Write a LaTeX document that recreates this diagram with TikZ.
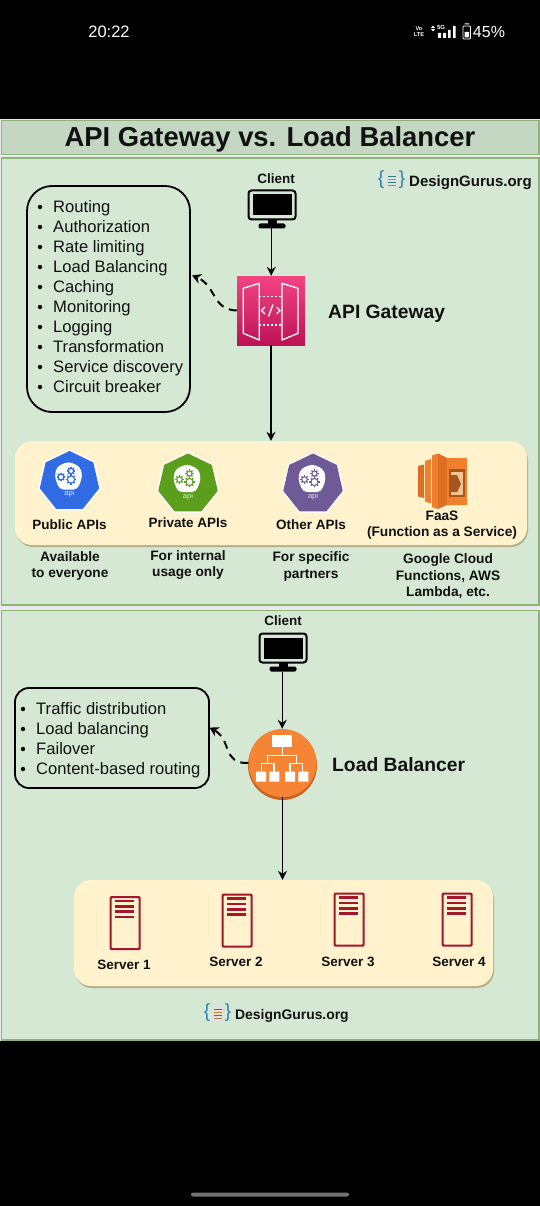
\documentclass[tikz,border=0pt]{standalone}
\usepackage{fontspec}
\setmainfont{Liberation Sans}
\usetikzlibrary{arrows.meta,calc}
\definecolor{panelg}{HTML}{D5E8D4}
\definecolor{titleg}{HTML}{C3D7C2}
\definecolor{edgeg}{HTML}{8DB37A}
\definecolor{cream}{HTML}{FFF2CC}
\definecolor{creamsh}{HTML}{B5B08A}
\definecolor{wine}{HTML}{A3162E}
\definecolor{inkk}{HTML}{111111}
\definecolor{pinktop}{HTML}{F34482}
\definecolor{pinkbot}{HTML}{BC1356}
\definecolor{lborange}{HTML}{F58534}
\definecolor{lbdark}{HTML}{C7651F}
\definecolor{kblue}{HTML}{326CE5}
\definecolor{kgreen}{HTML}{5A9E1B}
\definecolor{kpurple}{HTML}{6D5A96}
\definecolor{lamA}{HTML}{F07F2E}
\definecolor{lamB}{HTML}{DE6E24}
\definecolor{lamC}{HTML}{A3561F}
\definecolor{lamD}{HTML}{F7C48F}
\definecolor{logob}{HTML}{2F7FB5}
\tikzset{
 x=1pt,y=-1pt,
 panel/.style={draw=edgeg,line width=1.5pt,fill=panelg},
 cream box/.style={draw=none,fill=cream,rounded corners=17pt,inner sep=0pt},
 list box/.style={draw=black,line width=1.8pt,inner sep=0pt},
 lab/.style={font=\fontsize{13.5}{13.5}\selectfont\bfseries,text=inkk,inner sep=0pt,align=center},
 small lab/.style={font=\fontsize{13.7}{16.5}\selectfont\bfseries,text=inkk,inner sep=0pt,align=center},
 big lab/.style={font=\fontsize{19.3}{19.3}\selectfont\bfseries,text=inkk,inner sep=0pt,anchor=west},
 item/.style={font=\fontsize{16.6}{16.6}\selectfont,text=inkk,inner sep=0pt,anchor=west,text height=12pt,text depth=3.5pt},
 bullet/.style={circle,fill=inkk,inner sep=0pt,minimum size=4.5pt},
 flow/.style={-{Stealth[length=9pt,width=9pt]},line width=1.1pt,draw=black},
 side flow/.style={-{Stealth[length=9pt,width=10pt]},line width=2pt,draw=black,dash pattern=on 8pt off 6pt},
}
\newcommand{\monitorat}[3]{% name, x, y(top-left)
 \draw[black,line width=2pt,rounded corners=3pt] (#2,#3) rectangle ++(47,29);
 \fill[black] ({#2+4},{#3+4}) rectangle ++(39,21);
 \fill[black] ({#2+19},{#3+29}) rectangle ++(9,5);
 \fill[black,rounded corners=2pt] ({#2+10},{#3+33}) rectangle ++(27,5);
 \coordinate (#1) at ({#2+22.7},{#3+38});
}
\newcommand{\gearat}[4]{% x,y,r,colour
 \draw[#4,line width=1.1pt] (#1,#2) circle (#3);
 \foreach \a in {0,45,...,315}{\draw[#4,line width=1.3pt] ({#1+#3*cos(\a)},{#2+#3*sin(\a)}) -- ({#1+(#3+1.6)*cos(\a)},{#2+(#3+1.6)*sin(\a)});}
}
\newcommand{\kube}[4]{% name,x,y,colour
 \fill[white] ({#2},{#3-32})
  \foreach \k in {1,...,6}{ -- ({#2+32*sin(\k*360/7)},{#3-32*cos(\k*360/7)})} -- cycle;
 \fill[#4] ({#2},{#3-30.5})
  \foreach \k in {1,...,6}{ -- ({#2+30.5*sin(\k*360/7)},{#3-30.5*cos(\k*360/7)})} -- cycle;
 \fill[white,rounded corners=4pt] ({#2-1},{#3-20})
  -- ({#2+10.5},{#3-15}) -- ({#2+13},{#3-5}) -- ({#2+8},{#3+8}) -- ({#2-10},{#3+8}) -- ({#2-15},{#3-5}) -- ({#2-12.5},{#3-15}) -- cycle;
 \gearat{#2-8.5}{#3-4.5}{2.8}{#4}
 \gearat{#2+1.5}{#3-10.5}{2.6}{#4}
 \gearat{#2+1.5}{#3-2}{3.6}{#4}
 \node[inner sep=0pt,text=white!80!#4,font=\fontsize{7.5}{7.5}\selectfont] (#1) at (#2,{#3+12.5}) {api};
}
\newcommand{\serverat}[3]{% name,x,y
 \node[draw=wine,line width=2.2pt,rounded corners=1pt,minimum width=29pt,minimum height=52pt,inner sep=0pt,anchor=north west] (#1) at (#2,#3) {};
 \foreach \d in {5,10.3,15.6,20.9}{\fill[wine] ({#2+5.5},{#3+\d-1.3}) rectangle ++(19,2.7);}
}
\newcommand{\logoat}[5]{% name,x,y,text x,size
 \node[inner sep=0pt,text=logob,font=\fontsize{19}{19}\selectfont] at ({#2},{#3-1}) {\{};
 \node[inner sep=0pt,text=logob,font=\fontsize{19}{19}\selectfont] at ({#2+21},{#3-1}) {\}};
 \fill[black!12] ({#2+5},{#3-8}) rectangle ++(11,15);
 \foreach \d/\c in {-5/teal,-2/orange,1/teal,4/brown}{\draw[\c!70!gray,line width=.9pt] ({#2+6.5},{#3+\d}) -- ++(8,0);}
 \node[inner sep=0pt,anchor=west,text=inkk,font=\fontsize{#5}{#5}\selectfont\bfseries] (#1) at (#4,{#3+1.5}) {DesignGurus.org};
}
\begin{document}
\begin{tikzpicture}
\useasboundingbox (0,0) rectangle (540,1206);
\fill[black] (0,0) rectangle (540,1206);
% status bar
\node[text=white,inner sep=0pt,font=\fontsize{16.5}{16.5}\selectfont] (clock) at (109,32) {20:22};
\node[text=white,inner sep=0pt,font=\fontsize{16}{16}\selectfont] (batt) at (489,32) {45\%};
\node[text=white,inner sep=0pt,align=center,font=\fontsize{5.6}{6}\selectfont\bfseries] (volte) at (419,32) {Vo\\LTE};
\node[text=white,inner sep=0pt,font=\fontsize{6}{6}\selectfont\bfseries] (fiveg) at (441,27.5) {5G};
\fill[white] (431,28) -- (433,25.6) -- (435,28) (431,29) -- (433,31.4)--(435,29);
\fill[white] (438,33) rectangle ++(3,5) (443,33) rectangle ++(3,5) (448,30) rectangle ++(2.5,8) (453,26) rectangle ++(2.5,12);
\draw[white,line width=.8pt,rounded corners=1pt] (463,26) rectangle (470.5,39);
\fill[white] (464.5,32) rectangle (469,37.5) (464.5,23.5) rectangle (469,24.5);
\fill[black!55,rounded corners=2pt] (191,1192.5) rectangle (349,1196.5);
% panels
\fill[white!92!black] (0,119) rectangle (540,1041);
\draw[panel,fill=titleg] (1.5,120.5) rectangle (539,154.5);
\draw[panel] (1.5,158) rectangle (539,605);
\draw[panel] (1.5,610.5) rectangle (539,1040);
\node[inner sep=0pt,text=inkk,font=\fontsize{27.4}{27.4}\selectfont\bfseries] (title) at (270,139) {API Gateway vs. Load Balancer};
% logos
\logoat{logoa}{381}{181}{409}{15}
\logoat{logoc}{207}{1014}{235}{13.9}
% ---------- gateway part
\node[lab] (clienta) at (276,179) {Client};
\monitorat{mona}{248.5}{190.5}
\node[inner sep=0pt,minimum width=68pt,minimum height=69pt,top color=pinktop,bottom color=pinkbot,draw=none] (gw) at (271,310.5) {};
\draw[white,line width=1.3pt,line join=round] (243.3,288.3) -- (259.3,283.3) -- (259.3,340) -- (243.3,333.3) -- cycle;
\draw[white,line width=1.3pt,line join=round] (282,283.3) -- (298,288.3) -- (298,333.3) -- (282,340) -- cycle;
\draw[white,line width=1.3pt,dash pattern=on 2pt off 2pt] (259.3,296.7) -- (282,296.7) (259.3,325) -- (282,325);
\draw[white,line width=1.3pt] (265,307) -- (261.5,310.5) -- (265,314) (276.5,307) -- (280,310.5) -- (276.5,314) (273,304.5) -- (268.5,316.5);
\node[big lab] (gwlab) at (328,313.5) {API Gateway};
\node[list box,rounded corners=25pt,minimum width=163pt,minimum height=226pt] (lista) at (108.5,299) {};
\foreach \t [count=\i from 0] in {Routing,Authorization,Rate limiting,Load Balancing,Caching,Monitoring,Logging,Transformation,Service discovery,Circuit breaker}{
 \node[bullet] (ba\i) at (40,{207+20*\i}) {};
 \node[item] (ia\i) at (53,{208+20*\i}) {\t};
}
\coordinate (dasha) at (192,275.5);
\fill[creamsh] (16,443.5) [rounded corners=17pt] rectangle (528,547);
\node[cream box,minimum width=512pt,minimum height=104pt] (apis) at (271,493) {};
\draw[flow] (mona) -- (mona |- gw.north);
\draw[flow] (gw.south) -- (apis.north);
\draw[side flow] (gw.west) .. controls (212,310) and (216,285) .. (dasha);
\kube{kpub}{69.5}{481.5}{kblue}
\kube{kpri}{188}{484}{kgreen}
\kube{koth}{313}{484}{kpurple}
% lambda
\fill[lamB] (418,466) -- (424,464.5) -- (424,498) -- (418,496.5) -- cycle;
\fill[lamA] (425,461) -- (431,459) -- (431,503.5) -- (425,501.5) -- cycle;
\fill[lamA] (432,455.5) -- (438,453.5) -- (438,509) -- (432,507) -- cycle;
\fill[lamB] (438,453.5) -- (447,458) -- (467,458) -- (467,505) -- (447,505) -- (438,509) -- cycle;
\fill[lamA] (447,458) -- (467,458) -- (467,505) -- (447,505) -- cycle;
\fill[lamC] (449,469) -- (465,469) -- (465,497) -- (449,497) -- cycle;
\fill[lamD] (451,472) -- (463,472) -- (463,495) -- (451,495) -- cycle;
\fill[lamC] (451,475) -- (457,475) -- (461,484) -- (457,492) -- (451,492) -- cycle;
\node[lab] (lpub) at (69.5,525) {Public APIs};
\node[lab] (lpri) at (188,523) {Private APIs};
\node[lab] (loth) at (311,525) {Other APIs};
\node[small lab] (lfaas) at (442,525) {FaaS\\(Function as a Service)};
\node[small lab] (dpub) at (70,566) {Available\\to everyone};
\node[small lab] (dpri) at (188,565) {For internal\\usage only};
\node[small lab] (doth) at (311,566.5) {For specific\\partners};
\node[small lab] (dfaa) at (448,576.5) {Google Cloud\\Functions, AWS\\Lambda, etc.};
% ---------- load balancer part
\node[lab] (clientb) at (283,621) {Client};
\monitorat{monb}{259.5}{633.5}
\fill[lbdark] (282.5,765.5) circle (34.5);
\node[circle,fill=lborange,inner sep=0pt,minimum size=68pt] (lb) at (282.5,763) {};
\fill[white] (272.3,735) rectangle (292.3,747.3);
\draw[white,line width=1.2pt] (282.3,747) -- (282.3,755.7) (267.7,763.3) -- (267.7,755.7) -- (296.7,755.7) -- (296.7,763.3)
  (261.7,771.7) -- (261.7,763.3) -- (274,763.3) -- (274,771.7) (290,771.7) -- (290,763.3) -- (302.7,763.3) -- (302.7,771.7);
\fill[white] (256,771.7) rectangle ++(10,10) (269.3,771.7) rectangle ++(10,10) (285,771.7) rectangle ++(10,10) (298.3,771.7) rectangle ++(10,10);
\node[big lab] (lblab) at (332,765) {Load Balancer};
\node[list box,rounded corners=14pt,minimum width=194pt,minimum height=100pt] (listb) at (112,738) {};
\foreach \t [count=\i from 0] in {Traffic distribution,Load balancing,Failover,Content-based routing}{
 \node[bullet] (bb\i) at (23,{709+20*\i}) {};
 \node[item] (ib\i) at (36,{710+20*\i}) {\t};
}
\coordinate (dashb) at (209.5,727.5);
\fill[creamsh] (75,882.5) [rounded corners=17pt] rectangle (494,988);
\node[cream box,minimum width=419pt,minimum height=106pt] (srv) at (283.5,933) {};
\draw[flow] (monb) -- (monb |- lb.north);
\draw[flow] (lb.south) -- (lb.south |- srv.north);
\draw[side flow] (lb.west) .. controls (222,764) and (232,740) .. (dashb);
\serverat{s1}{109.5}{896}
\serverat{s2}{221.5}{893.5}
\serverat{s3}{333.5}{892.5}
\serverat{s4}{441.5}{892.5}
\node[lab] (ls1) at (124,965) {Server 1};
\node[lab] (ls2) at (236,962) {Server 2};
\node[lab] (ls3) at (348,962) {Server 3};
\node[lab] (ls4) at (459,962) {Server 4};
\end{tikzpicture}
\end{document}
